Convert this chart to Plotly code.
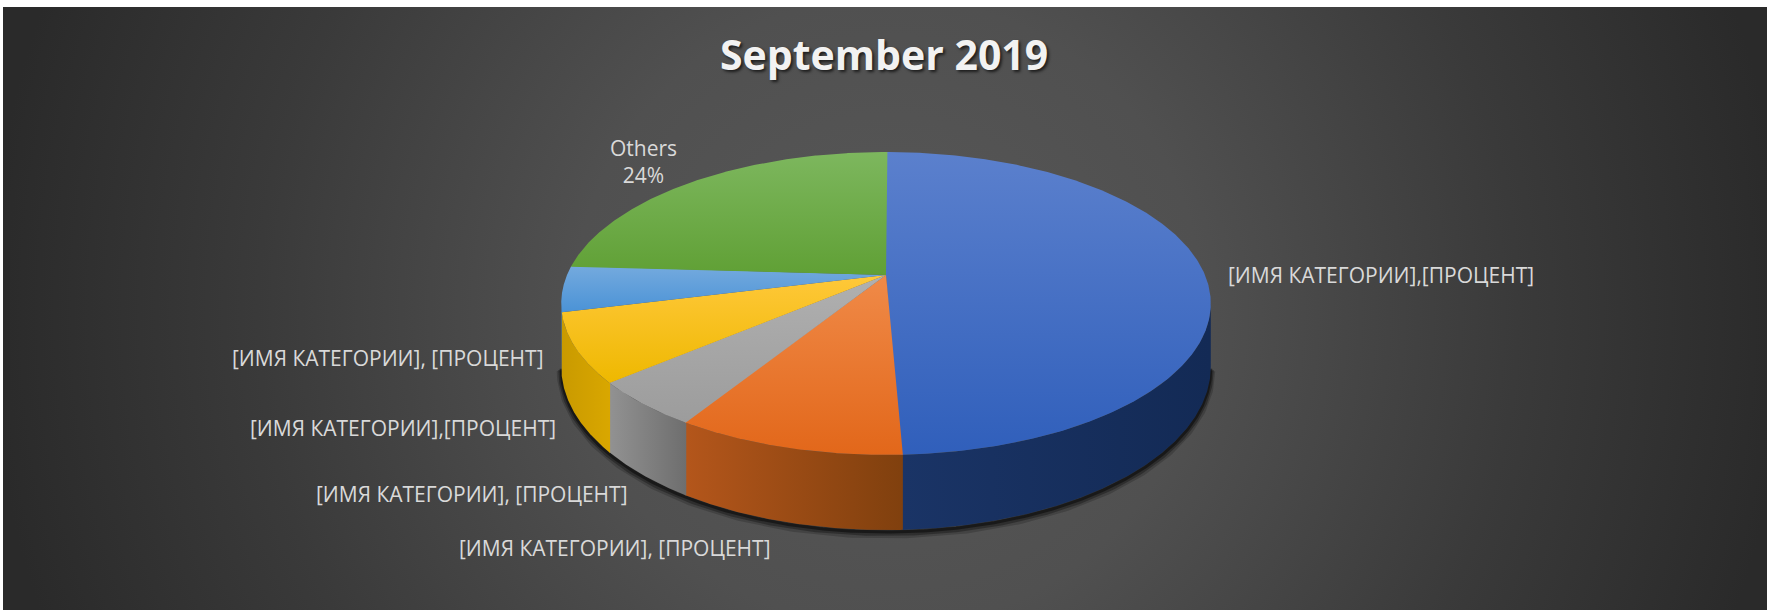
import base64
import numpy as np
import plotly.graph_objects as go

W, H = 1767, 610

# Slices, clockwise from 12 o'clock
slice_names = [
    "[ИМЯ КАТЕГОРИИ],[ПРОЦЕНТ]",
    "[ИМЯ КАТЕГОРИИ], [ПРОЦЕНТ]",
    "[ИМЯ КАТЕГОРИИ], [ПРОЦЕНТ]",
    "[ИМЯ КАТЕГОРИИ],[ПРОЦЕНТ]",
    "[ИМЯ КАТЕГОРИИ], [ПРОЦЕНТ]",
    "Others",
]
slice_values = [49.4, 9.5, 4.9, 7.3, 4.9, 24.0]
shows_percent = [False, False, False, False, False, True]

# top face gradient (upper, lower) and side gradient (left, right)
top_colors = [
    ("#5b80cd", "#305fbb"),
    ("#f08a48", "#e2671a"),
    ("#b0b0b0", "#9c9c9c"),
    ("#ffc83a", "#eeb800"),
    ("#74aade", "#4a92d6"),
    ("#7db75e", "#60a035"),
]
side_colors = [
    ("#1a3466", "#132a55"),
    ("#b4561b", "#80400e"),
    ("#929292", "#6e6e6e"),
    ("#c99a00", "#d9a700"),
    ("#3f7fbf", "#336ea8"),
    ("#548a2e", "#4a7b28"),
]
label_pos = [(1381, 275), (615, 548), (472, 494), (403, 428), (388, 358), (643, 161)]

# projection of the tilted disc (perspective homography)
CX, C0 = 886.0, 275.0
A, B, P = 319.0, 94.4, -0.188
DEPTH = 61.0
OVERLAP = 0.3  # degrees each slice reaches under its neighbour, hides seams


def project(theta_deg, bottom=False):
    t = np.radians(theta_deg)
    u, v = np.sin(t), -np.cos(t)
    den = 1.0 + P * v
    x = CX + A * u / den
    y = (B * v + C0) / den
    if bottom:
        y = y + DEPTH / den
    return x, y


fig = go.Figure()

n = len(slice_values)
total = sum(slice_values)
bounds = np.concatenate([[0.0], np.cumsum(slice_values) / total * 360.0])
th_r = np.degrees(np.arccos(P))          # right silhouette
th_l = 360.0 - th_r                       # left silhouette

# soft shadow under the rim
sh_t = np.linspace(th_r, th_l, 300)
sx, sy = project(sh_t, bottom=True)
for off, wdt, alpha in [(4, 9, 0.18), (3, 6, 0.3), (2, 3, 0.45)]:
    fig.add_trace(go.Scatter(x=sx, y=sy + off, mode="lines",
                             line=dict(color=f"rgba(0,0,0,{alpha})", width=wdt),
                             hoverinfo="skip", showlegend=False))

# side walls (visible front half only)
for i in range(n):
    a = max(bounds[i] - (OVERLAP if i > 0 else 0.0), th_r)
    b = min(bounds[i + 1], th_l)
    if a >= b:
        continue
    t = np.linspace(a, b, 200)
    xt, yt = project(t)
    xb, yb = project(t[::-1], bottom=True)
    xs = np.concatenate([xt, xb, xt[:1]])
    ys = np.concatenate([yt, yb, yt[:1]])
    c1, c2 = side_colors[i]
    fig.add_trace(go.Scatter(
        x=xs, y=ys, mode="lines", fill="toself",
        line=dict(color=c2, width=0),
        fillgradient=dict(type="horizontal", colorscale=[[0, c1], [1, c2]],
                          start=float(xs.min()), stop=float(xs.max())),
        hoverinfo="skip", showlegend=False))

# top faces
for i in range(n):
    a = bounds[i] - (OVERLAP if i > 0 else 0.0)
    b = bounds[i + 1] + (OVERLAP if i == n - 1 else 0.0)
    t = np.linspace(a, b, 300)
    xa, ya = project(t)
    xs = np.concatenate([[CX], xa, [CX]])
    ys = np.concatenate([[C0], ya, [C0]])
    c1, c2 = top_colors[i]
    fig.add_trace(go.Scatter(
        x=xs, y=ys, mode="lines", fill="toself",
        line=dict(color=c2, width=0),
        fillgradient=dict(type="vertical", colorscale=[[0, c1], [1, c2]],
                          start=float(ys.min()), stop=float(ys.max())),
        hoverinfo="skip", showlegend=False))

label_font = dict(family="Open Sans", size=21, color="#d9d9d9")
annotations = []
for name, val, show, (lx, ly) in zip(slice_names, slice_values, shows_percent, label_pos):
    text = f"{name}<br>{val:.0f}%" if show else name
    annotations.append(dict(x=lx, y=ly, xref="x", yref="y", text=text, showarrow=False,
                            xanchor="center", yanchor="middle", font=label_font,
                            align="center"))

annotations.append(dict(
    x=884, y=54, xref="x", yref="y", text="September 2019", showarrow=False,
    xanchor="center", yanchor="middle",
    font=dict(family="Open Sans", size=41, color="#f2f2f2", weight=700,
              shadow="2px 2px 3px rgba(0,0,0,0.65)")))

# background: soft radial glow on charcoal
bw, bh = W - 3, H - 7
svg = (
    f'<svg xmlns="http://www.w3.org/2000/svg" width="{bw}" height="{bh}">'
    f'<defs><radialGradient id="g" gradientUnits="userSpaceOnUse" cx="885" cy="305" r="900">'
    '<stop offset="0" stop-color="#585858"/>'
    '<stop offset="0.35" stop-color="#505050"/>'
    '<stop offset="0.7" stop-color="#3a3a3a"/>'
    '<stop offset="1" stop-color="#2a2a2a"/>'
    '</radialGradient></defs>'
    f'<rect width="{bw}" height="{bh}" fill="url(#g)"/></svg>'
)
bg_uri = "data:image/svg+xml;base64," + base64.b64encode(svg.encode()).decode()

fig.update_layout(
    width=W, height=H, autosize=False,
    margin=dict(l=0, r=0, t=0, b=0, pad=0),
    paper_bgcolor="#ffffff", plot_bgcolor="rgba(0,0,0,0)",
    xaxis=dict(range=[0, W], visible=False, fixedrange=True),
    yaxis=dict(range=[H, 0], visible=False, fixedrange=True),
    annotations=annotations,
    images=[dict(source=bg_uri, xref="paper", yref="paper", x=3 / W, y=1 - 7 / H,
                 sizex=bw / W, sizey=bh / H, xanchor="left", yanchor="top",
                 sizing="stretch", layer="below")],
    showlegend=False,
)

fig.write_html("out.html", config={"displayModeBar": False})
